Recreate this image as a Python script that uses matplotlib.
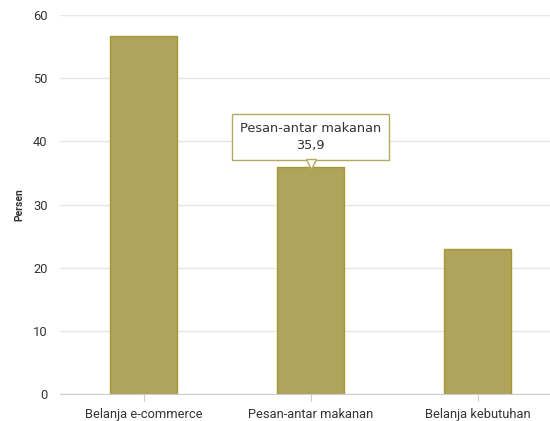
import matplotlib
matplotlib.use("Agg")
import matplotlib.pyplot as plt
import matplotlib.transforms as mtransforms

categories = ["Belanja e-commerce", "Pesan-antar makanan", "Belanja kebutuhan"]
values = [56.6, 35.9, 22.9]
yticks = [0, 10, 20, 30, 40, 50, 60]
ylabel = "Persen"
highlight = 1

bar_color = "#b0a35b"
edge_color = "#a69837"
grid_color = "#e6e6e6"

fig = plt.figure(figsize=(5.5, 4.21), dpi=100)
W, H = 550, 421
ax = fig.add_axes([60 / W, 27 / H, 501 / W, 379 / H])

x = list(range(len(categories)))
ax.bar(x, values, width=0.4, color=bar_color, edgecolor=edge_color, linewidth=1, zorder=3)

ax.set_xlim(-0.5, len(categories) - 0.5)
ax.set_ylim(0, 60)
ax.set_yticks(yticks)
ax.set_yticklabels([str(t) for t in yticks], fontsize=9.3, color="#333333", family="Roboto")
ax.set_xticks(x)
ax.set_xticklabels(categories, fontsize=9.3, color="#333333", family="Roboto")
ax.tick_params(axis="y", length=0, pad=9)
ax.tick_params(axis="x", length=5, color="#cccccc", pad=5, direction="out")
ax.grid(axis="y", color=grid_color, linewidth=1, zorder=0)
for s in ["top", "right", "left"]:
    ax.spines[s].set_visible(False)
ax.spines["bottom"].set_color("#cccccc")
ax.spines["bottom"].set_zorder(4)
ax.set_ylabel(ylabel, fontsize=7.5, fontweight="bold", color="#333333", family="Roboto", labelpad=6)

# tooltip anchored to highlighted bar
val = values[highlight]
tr_box = mtransforms.offset_copy(ax.transData, fig=fig, x=0, y=30, units="dots")
ax.text(highlight, val, f"{categories[highlight]}\n{val:.1f}".replace(".", ","),
        transform=tr_box, ha="center", va="center", fontsize=9.3, color="#333333",
        family="DejaVu Sans", linespacing=1.45, zorder=6,
        bbox=dict(boxstyle="square,pad=0.58", facecolor="white", edgecolor="#b5a962", linewidth=1))
tr_ptr = mtransforms.offset_copy(ax.transData, fig=fig, x=0, y=3.5, units="dots")
ax.plot([highlight], [val], marker="v", markersize=7, markerfacecolor="white",
        markeredgecolor="#b5a962", markeredgewidth=1, transform=tr_ptr, zorder=7, clip_on=False)

fig.savefig("out.png", dpi=100)
